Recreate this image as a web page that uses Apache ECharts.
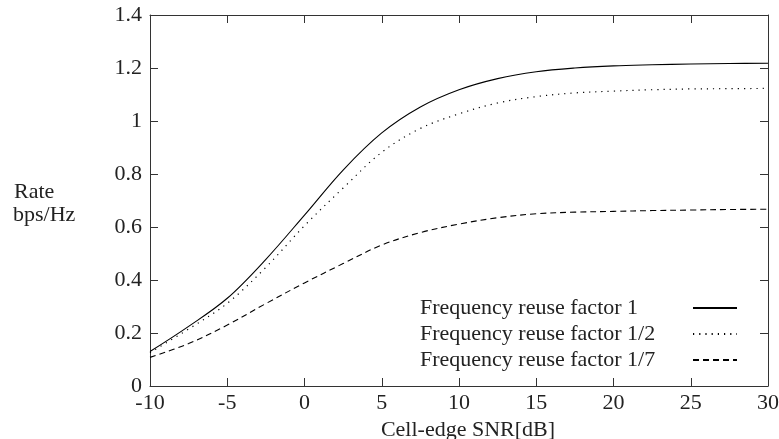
<!DOCTYPE html>
<html><head><meta charset="utf-8">
<script src="https://cdn.jsdelivr.net/npm/echarts@6/dist/echarts.min.js"></script>
<style>html,body{margin:0;padding:0;background:#fff}#c{width:779px;height:439px}</style>
</head><body><div id="c"></div>
<script>
const snrDb = [-10, -7.5, -5, -2.5, 0, 2.5, 5, 7.5, 10, 12.5, 15, 17.5, 20, 22.5, 25, 27.5, 30];
const reuse1 = [0.13, 0.225, 0.331, 0.478, 0.645, 0.815, 0.955, 1.053, 1.118, 1.16, 1.186, 1.2, 1.208, 1.212, 1.215, 1.217, 1.218];
const reuseHalf = [0.126, 0.215, 0.312, 0.448, 0.605, 0.747, 0.882, 0.972, 1.027, 1.068, 1.092, 1.106, 1.113, 1.118, 1.121, 1.122, 1.123];
const reuseSeventh = [0.108, 0.16, 0.23, 0.311, 0.389, 0.462, 0.532, 0.579, 0.611, 0.635, 0.65, 0.656, 0.659, 0.662, 0.664, 0.666, 0.667];
const seriesNames = ['Frequency reuse factor 1', 'Frequency reuse factor 1/2', 'Frequency reuse factor 1/7'];
const xTitle = 'Cell-edge SNR[dB]';
const yTitleLines = ['Rate', 'bps/Hz'];

const FONT = '"Liberation Serif", "Times New Roman", serif';
const TXT = '#222';
const AX = '#333';
const FS = 22;

function pairs(ys) { return snrDb.map((x, i) => [x, ys[i]]); }

const chart = echarts.init(document.getElementById('c'), null, { renderer: 'canvas' });

const xBase = { type: 'value', min: -10, max: 30, interval: 5,
  axisLine: { show: true, onZero: false, lineStyle: { color: AX, width: 1 } },
  axisTick: { show: true, inside: true, length: 8, lineStyle: { color: AX } },
  splitLine: { show: false } };
const yBase = { type: 'value', min: 0, max: 1.4, interval: 0.2,
  axisLine: { show: true, onZero: false, lineStyle: { color: AX, width: 1 } },
  axisTick: { show: true, inside: true, length: 8, lineStyle: { color: AX } },
  splitLine: { show: false } };

const styles = [
  { type: 'solid', width: 1.1 },
  { type: [1.2, 5], width: 1.2 },
  { type: [6, 4], width: 1.1 }
];
const datas = [reuse1, reuseHalf, reuseSeventh];

chart.setOption({
  animation: false,
  backgroundColor: '#fff',
  grid: { left: 150, right: 11, top: 15, bottom: 53, containLabel: false, outerBoundsMode: 'none' },
  xAxis: [
    Object.assign({}, xBase, { position: 'bottom',
      axisLabel: { show: true, color: TXT, fontFamily: FONT, fontSize: FS, margin: 6 },
      name: xTitle, nameLocation: 'middle', nameGap: 33, nameMoveOverlap: false,
      nameTextStyle: { color: TXT, fontFamily: FONT, fontSize: FS, padding: [0, 0, 0, 18] } }),
    Object.assign({}, xBase, { position: 'top', axisLabel: { show: false } })
  ],
  yAxis: [
    Object.assign({}, yBase, { position: 'left',
      axisLabel: { show: true, color: TXT, fontFamily: FONT, fontSize: FS, margin: 8 } }),
    Object.assign({}, yBase, { position: 'right', axisLabel: { show: false } })
  ],
  legend: {
    data: seriesNames,
    orient: 'vertical', right: 36, top: 292, align: 'right',
    itemWidth: 44, itemHeight: 14, itemGap: 4,
    itemStyle: { opacity: 0, color: 'transparent', borderWidth: 0 },
    formatter: n => '{t|' + n + '}',
    textStyle: { color: TXT, fontFamily: FONT, fontSize: FS,
      rich: { t: { width: 268, align: 'left', color: TXT, fontFamily: FONT, fontSize: FS } } }
  },
  graphic: [
    { type: 'text', left: 14, top: 181, style: { text: yTitleLines[0], fill: TXT, font: FS + 'px ' + FONT } },
    { type: 'text', left: 13, top: 204, style: { text: yTitleLines[1], fill: TXT, font: FS + 'px ' + FONT } }
  ],
  series: seriesNames.map((name, i) => ({
    name, type: 'line', xAxisIndex: 0, yAxisIndex: 0,
    data: pairs(datas[i]), smooth: 0.35,
    symbol: 'none', showSymbol: false,
    lineStyle: Object.assign({ color: '#000' }, styles[i]),
    itemStyle: { color: '#000' },
    emphasis: { disabled: true }
  }))
});
</script></body></html>
